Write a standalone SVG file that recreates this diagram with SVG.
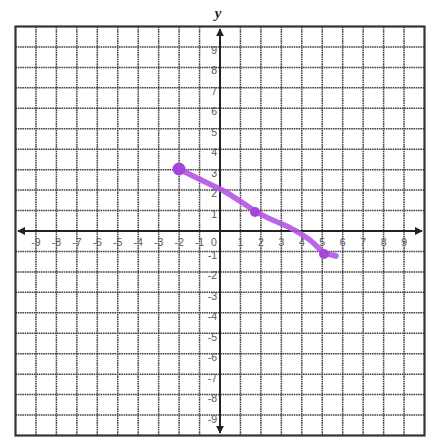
<svg xmlns="http://www.w3.org/2000/svg" width="432" height="437" viewBox="0 0 432 437">
<defs>
<style>
.g{stroke:#444;stroke-width:1.5;stroke-dasharray:1.6 0.7;fill:none}
.ax{stroke:#222;stroke-width:2;fill:none}
.lb{font-family:"Liberation Sans",Arial,sans-serif;font-size:10.5px;fill:#5a5a5a}
.xl{text-anchor:middle}
.yl{text-anchor:end}
</style>
<marker id="ah" viewBox="0 0 10 10" refX="9" refY="5" markerWidth="4" markerHeight="4" orient="auto-start-reverse">
<path d="M0,0 L10,5 L0,10 z" fill="#222"/>
</marker>
</defs>
<rect width="432" height="437" fill="#fff"/>
<g id="grid">
<path class="g" d="M35.95,26.5V435.5M56.4,26.5V435.5M76.85,26.5V435.5M97.3,26.5V435.5M117.75,26.5V435.5M138.2,26.5V435.5M158.65,26.5V435.5M179.1,26.5V435.5M199.55,26.5V435.5M240.45,26.5V435.5M260.9,26.5V435.5M281.35,26.5V435.5M301.8,26.5V435.5M322.25,26.5V435.5M342.7,26.5V435.5M363.15,26.5V435.5M383.6,26.5V435.5M404.05,26.5V435.5"/>
<path class="g" d="M15.5,46.95H424.5M15.5,67.4H424.5M15.5,87.85H424.5M15.5,108.3H424.5M15.5,128.75H424.5M15.5,149.2H424.5M15.5,169.65H424.5M15.5,190.1H424.5M15.5,210.55H424.5M15.5,251.45H424.5M15.5,271.9H424.5M15.5,292.35H424.5M15.5,312.8H424.5M15.5,333.25H424.5M15.5,353.7H424.5M15.5,374.15H424.5M15.5,394.6H424.5M15.5,415.05H424.5"/>
<rect x="15.5" y="26.5" width="409" height="409" fill="none" stroke="#333" stroke-width="2.2"/>
</g>
<g id="axes">
<line class="ax" x1="18" y1="231" x2="422" y2="231" marker-start="url(#ah)" marker-end="url(#ah)"/>
<line class="ax" x1="220" y1="29" x2="220" y2="433" marker-start="url(#ah)" marker-end="url(#ah)"/>
<text x="218" y="18" font-family="'Liberation Serif','Times New Roman',serif" font-style="italic" font-weight="bold" font-size="15" text-anchor="middle" fill="#222">y</text>
</g>
<g id="xlabels" class="lb xl">
<text x="35.95" y="246">-9</text><text x="56.4" y="246">-8</text><text x="76.85" y="246">-7</text><text x="97.3" y="246">-6</text><text x="117.75" y="246">-5</text><text x="138.2" y="246">-4</text><text x="158.65" y="246">-3</text><text x="179.1" y="246">-2</text><text x="199.55" y="246">-1</text>
<text x="214" y="246">0</text>
<text x="240.45" y="246">1</text><text x="260.9" y="246">2</text><text x="281.35" y="246">3</text><text x="301.8" y="246">4</text><text x="322.25" y="246">5</text><text x="342.7" y="246">6</text><text x="363.15" y="246">7</text><text x="383.6" y="246">8</text><text x="404.05" y="246">9</text>
</g>
<g id="ylabels" class="lb yl">
<text x="217" y="53.5">9</text><text x="217" y="74">8</text><text x="217" y="94.5">7</text><text x="217" y="115">6</text><text x="217" y="135.5">5</text><text x="217" y="156">4</text><text x="217" y="176.5">3</text><text x="217" y="197">2</text><text x="217" y="217.5">1</text>
<text x="217" y="258.5">-1</text><text x="217" y="279">-2</text><text x="217" y="299.5">-3</text><text x="217" y="320">-4</text><text x="217" y="340.5">-5</text><text x="217" y="361">-6</text><text x="217" y="381.5">-7</text><text x="217" y="402">-8</text><text x="217" y="422.5">-9</text>
</g>
<g id="graph">
<path d="M179,169 C195,177 205,182 222,190 C235,197 245,205 255,211 C265,217 272,220 282,224 C292,228 300,233 310,240 C316,245 320,250 324,253 L336,256" fill="none" stroke="#b455e6" stroke-width="5.5" stroke-linecap="round" stroke-linejoin="round" opacity="0.9"/>
<circle cx="179" cy="169" r="6.5" fill="#a545d8"/>
<circle cx="255" cy="212" r="5" fill="#a545d8"/>
<circle cx="324" cy="254" r="5" fill="#a545d8"/>
</g>
</svg>
